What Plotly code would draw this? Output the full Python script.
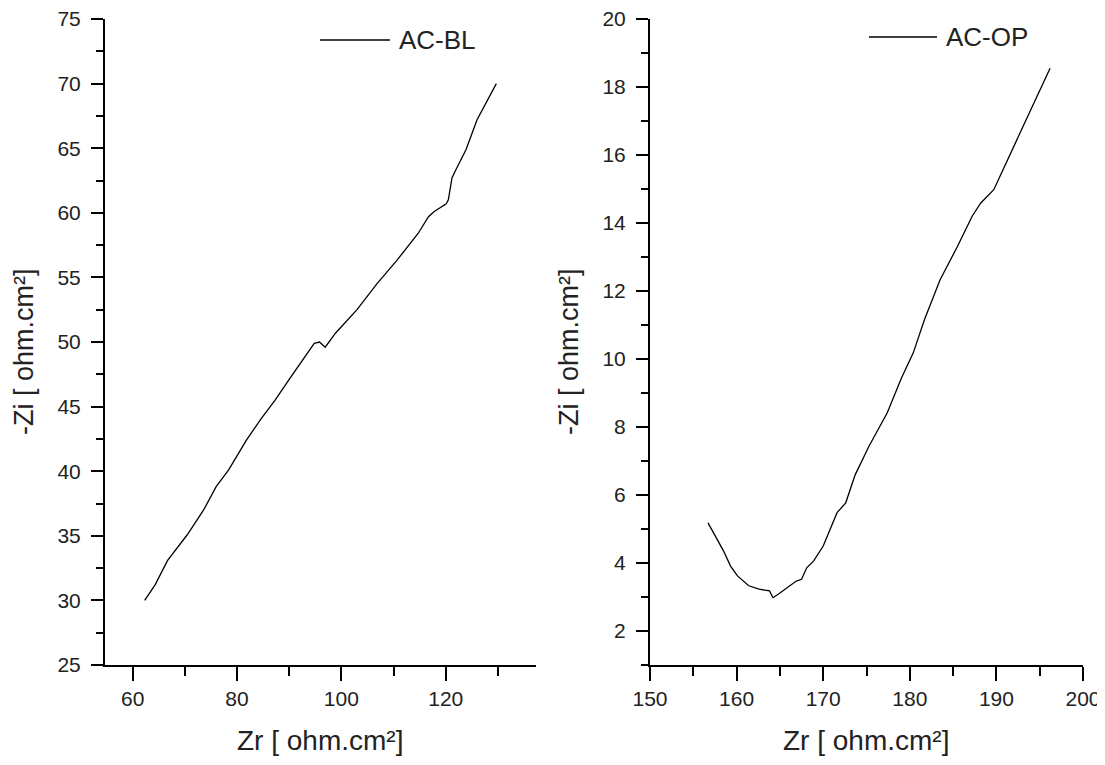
import plotly.graph_objects as go
from plotly.subplots import make_subplots

# ---- data ----
bl_zr = [62.3, 64.3, 66.7, 70.5, 73.6, 76.0, 78.4, 81.8, 84.5, 87.3, 90.0, 93.4, 94.8, 95.8,
         96.9, 98.9, 103.0, 106.8, 110.6, 114.7, 116.7, 117.8, 120.1, 120.5, 121.2, 121.9,
         123.9, 126.0, 129.7]
bl_zi = [30.0, 31.2, 33.1, 35.1, 37.0, 38.8, 40.1, 42.4, 44.0, 45.5, 47.1, 49.1, 49.9, 50.0,
         49.6, 50.7, 52.5, 54.5, 56.3, 58.4, 59.7, 60.1, 60.7, 61.0, 62.7, 63.3,
         64.9, 67.2, 70.0]

op_zr = [156.7, 157.7, 158.5, 159.3, 160.1, 161.4, 162.6, 163.8, 164.2, 164.8, 165.9, 166.9,
         167.5, 168.1, 168.9, 170.0, 171.6, 172.6, 173.7, 175.3, 177.4, 179.0, 180.4, 181.7,
         182.9, 183.5, 185.5, 187.2, 188.2, 189.7, 192.9, 196.2]
op_zi = [5.18, 4.74, 4.35, 3.91, 3.62, 3.33, 3.23, 3.18, 2.98, 3.08, 3.28, 3.47,
         3.52, 3.86, 4.06, 4.50, 5.48, 5.77, 6.60, 7.44, 8.42, 9.42, 10.18, 11.16,
         11.94, 12.33, 13.31, 14.20, 14.59, 14.98, 16.74, 18.55]

series_names = ["AC-BL", "AC-OP"]
x_title = "Zr [ ohm.cm²]"
y_title = "-Zi [ ohm.cm²]"

# page body has an 8px default margin; size the figure so it fits the window
OFF = 8
W, H = 1105 - OFF, 765 - OFF
FONT = "Liberation Sans, Arial, sans-serif"
TXT = "#222222"

fig = make_subplots(rows=1, cols=2)

fig.add_trace(go.Scatter(x=bl_zr, y=bl_zi, mode="lines", name=series_names[0],
                         line=dict(color="black", width=1.3), showlegend=False), row=1, col=1)
fig.add_trace(go.Scatter(x=op_zr, y=op_zi, mode="lines", name=series_names[1],
                         line=dict(color="black", width=1.3), showlegend=False), row=1, col=2)


def px_x(p):
    return (p - OFF) / W


def px_y(p):
    return 1 - (p - OFF) / H


ydom = [px_y(665), px_y(19)]
minor_common = dict(ticks="outside", tickcolor="black", tickwidth=1.5, tick0=0)

axis_common = dict(
    showline=True, linecolor="black", linewidth=2, mirror=False,
    showgrid=False, zeroline=False, ticks="outside", tickcolor="black", tickwidth=1.5,
    tickfont=dict(family=FONT, size=21, color=TXT),
    automargin=False, ticklabeloverflow="allow",
)

fig.update_xaxes(**axis_common)
fig.update_yaxes(**axis_common, ticklabelstandoff=6)

fig.update_layout(
    xaxis=dict(domain=[px_x(105), px_x(536)], range=[54.7, 137.3], tick0=0, dtick=20, ticklen=14,
               minor=dict(dtick=10, ticklen=9, **minor_common)),
    yaxis=dict(domain=ydom, range=[25, 75], tick0=0, dtick=5, ticklen=12,
               minor=dict(dtick=2.5, ticklen=7, **minor_common)),
    xaxis2=dict(domain=[px_x(650), px_x(1083)], range=[150, 200], tick0=0, dtick=10, ticklen=14,
                minor=dict(dtick=5, ticklen=9, **minor_common)),
    yaxis2=dict(domain=ydom, range=[1, 20], tick0=0, dtick=2, ticklen=12,
                minor=dict(dtick=1, ticklen=7, **minor_common)),
    width=W, height=H,
    margin=dict(l=0, r=0, t=0, b=0),
    paper_bgcolor="white", plot_bgcolor="white",
    showlegend=False,
)

# axis titles placed as annotations (page-pixel centres)
xt_pos = [(320, 740), (866, 740)]
yt_pos = [(24, 352), (569, 352)]
for (xc, yc) in xt_pos:
    fig.add_annotation(text=x_title, xref="paper", yref="paper", x=px_x(xc), y=px_y(yc),
                       xanchor="center", yanchor="middle", showarrow=False,
                       font=dict(family=FONT, size=28, color=TXT))
for (xc, yc) in yt_pos:
    fig.add_annotation(text=y_title, xref="paper", yref="paper", x=px_x(xc), y=px_y(yc),
                       xanchor="center", yanchor="middle", showarrow=False, textangle=-90,
                       font=dict(family=FONT, size=27, color=TXT))

# legend-like keys (line sample + label) in each panel
legend_pos = [(320, 390, 397, 40), (869, 937, 944, 37)]
for name, (x0, x1, xt, yc) in zip(series_names, legend_pos):
    fig.add_shape(type="line", xref="paper", yref="paper",
                  x0=px_x(x0), x1=px_x(x1), y0=px_y(yc), y1=px_y(yc),
                  line=dict(color="black", width=1.3))
    fig.add_annotation(text=name, xref="paper", yref="paper", x=px_x(xt), y=px_y(yc),
                       xanchor="left", yanchor="middle", showarrow=False,
                       font=dict(family=FONT, size=26, color=TXT))

fig.write_html("out.html")
